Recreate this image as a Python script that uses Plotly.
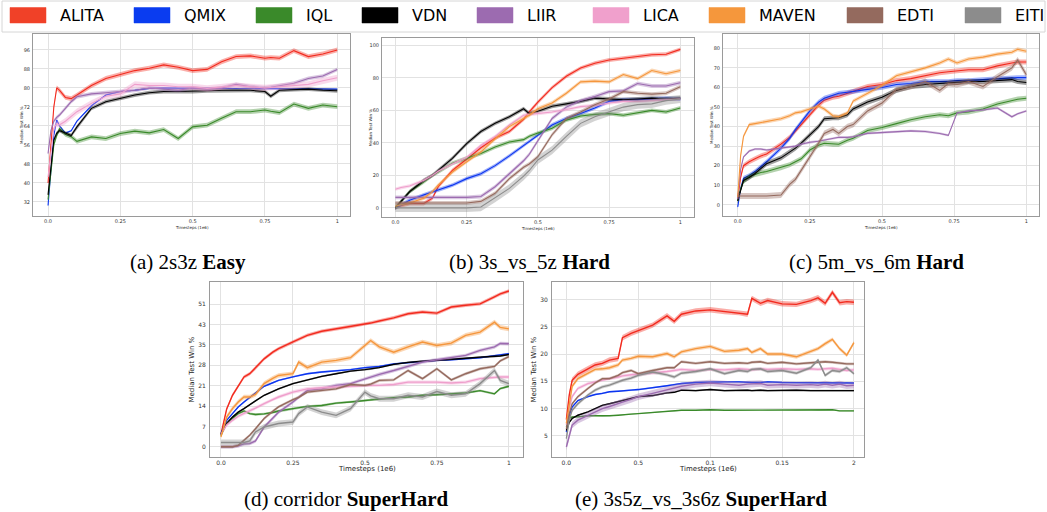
import plotly.graph_objects as go

W, H = 1047, 512

NAMES = ["ALITA", "QMIX", "IQL", "VDN", "LIIR", "LICA", "MAVEN", "EDTI", "EITI"]
COLORS = ["#f22a1e", "#0b35f0", "#3a8a2a", "#000000", "#9c6bb0",
          "#ef9fcc", "#f5963c", "#956a5e", "#8c8c8c"]

# ---------------- (a) 2s3z ----------------
A_X = [0, 0.01, 0.02, 0.03, 0.04, 0.06, 0.08, 0.1, 0.15, 0.2, 0.25, 0.3, 0.35, 0.4,
       0.45, 0.5, 0.55, 0.6, 0.65, 0.7, 0.75, 0.77, 0.8, 0.85, 0.9, 0.95, 1.0]
A_ALITA = [40, 55, 72, 80, 79, 76, 75.5, 77, 81, 84, 85.5, 87.3, 88.3, 89.7, 88.7, 87.3,
           87.8, 91, 93.2, 93.5, 92.5, 92.8, 92.5, 95.7, 93.2, 94.3, 96]
A_QMIX = [30.5, 45, 60, 66.5, 64, 61, 62, 66, 72.5, 77, 78.5, 79, 79.8, 80, 79.8, 79.8,
          79.8, 79.8, 79.8, 79.8, 79.8, 79.8, 79.8, 79.8, 79.8, 79.6, 79.5]
A_IQL = [33, 45, 56, 60, 62.9, 60.5, 59.5, 57.5, 59.4, 58.7, 60.8, 61.8, 61.1, 62.5, 58.7,
         63.6, 64.3, 67.2, 70, 70, 70.7, 70.2, 69.6, 73.2, 71.4, 72.8, 72.1]
A_VDN = [35, 48, 58, 61, 62, 61, 60, 63.6, 71.4, 74.2, 75.6, 77, 78, 78.5, 78.5, 78.5,
         78.8, 79, 79, 79, 78.5, 76.5, 79, 79.3, 79.5, 79, 78.8]
A_LIIR = [52.4, 62, 66, 67.6, 68.6, 71.4, 74.2, 76.3, 77.5, 78, 78.5, 79, 80, 79.5, 79, 80,
          79.5, 80, 81.5, 80.5, 80, 80.3, 81, 82, 84, 85, 87.8]
A_LICA = [42.5, 52, 63, 65, 64.5, 66, 68, 70, 73.5, 76.5, 77.5, 81.5, 81, 81, 80.5, 80.5,
          79.8, 80.5, 81, 80.5, 80, 80.2, 80.5, 81, 81.5, 83, 84.3]
A_BAND = [1.0, 0.3, 1.0, 0.8, 0.8, 1.3]

# ---------------- (b) 3s_vs_5z ----------------
B_X = [0, 0.02, 0.05, 0.1, 0.13, 0.15, 0.2, 0.25, 0.3, 0.35, 0.4, 0.45, 0.47, 0.5, 0.55,
       0.6, 0.65, 0.7, 0.75, 0.8, 0.85, 0.9, 0.95, 1.0]
B_ALITA = [0, 1.5, 2.7, 2.7, 6, 13, 23, 30, 37, 43, 47, 54.5, 59, 65, 74, 81, 86, 89, 91,
           92, 93, 94.2, 94.5, 97.5]
B_QMIX = [0, 2, 4.7, 8, 10, 11, 14, 18, 21, 26, 32, 38.5, 41, 45, 51, 55, 58, 61.5, 65.5,
          66.5, 66.5, 67, 67.5, 67]
B_IQL = [0, 4, 10, 16, 20, 22, 27.5, 30.5, 33.5, 37.5, 40.5, 42, 44, 46, 49, 54, 56.5,
         57.5, 58, 57, 58.5, 60, 59, 61.5]
B_VDN = [0, 4, 10, 17, 20, 23, 30.5, 39.5, 47, 52, 56, 61, 58, 59.5, 62.5, 64, 65.5, 67.5,
         67, 66.5, 67, 67.5, 67, 67.5]
B_LIIR = [6.5, 6.5, 6.5, 6.5, 6.5, 6.5, 6.5, 6.5, 7, 13, 21, 29, 33, 41, 55, 62, 66, 68.5,
          71.5, 72, 76.5, 75, 75, 77]
B_LICA = [11.5, 12.5, 13.5, 17, 20, 22.5, 27, 31, 38.5, 44, 51, 57, 57.5, 58, 59, 60.5,
          62.3, 63, 64.5, 65.5, 65.5, 66, 66.5, 67]
B_MAVEN = [1, 2, 3, 6, 10, 14, 22, 28.5, 34.5, 42.5, 50, 55, 57, 61, 64.5, 70.5, 77.5, 78,
           77.5, 82, 79.5, 84.5, 82.5, 84.5]
B_EDTI = [3, 3, 3, 3, 3, 3, 3, 3, 4, 9, 18, 25, 27, 31.5, 45, 55, 59, 63.5, 67, 71.5, 70.5,
          70, 70.5, 74.5]
B_EITI = [0, 0, 0, 0, 0, 0, 0, 0, 0.5, 6, 12, 19.5, 23, 29.5, 35.5, 44, 52, 56, 59, 62,
          63.5, 64, 66, 67]
B_BAND = [1.2, 1.2, 1.2, 1.2, 1.2, 1.0, 1.2, 1.2, 2.5]

# ---------------- (c) 5m_vs_6m ----------------
C_X = [0, 0.01, 0.02, 0.04, 0.06, 0.08, 0.1, 0.15, 0.18, 0.2, 0.22, 0.25, 0.28, 0.3, 0.33,
       0.35, 0.38, 0.4, 0.45, 0.5, 0.55, 0.6, 0.65, 0.7, 0.73, 0.76, 0.8, 0.85, 0.9, 0.95,
       0.97, 1.0]
C_ALITA = [3, 14, 20, 22, 23.5, 25, 26, 31, 34.5, 37.5, 41, 46, 51, 53.5, 55, 55.5, 57, 58,
           60.5, 61.5, 63.5, 64.5, 66, 67.5, 68, 68.5, 69, 69, 71, 72.5, 73, 73]
C_QMIX = [-1, 8, 13.5, 15, 17, 19.5, 22, 29, 34, 38.5, 42.5, 48, 52.5, 54.5, 56, 57, 57.5,
          58, 59, 60, 61.5, 62, 63, 63, 63, 63.5, 63.5, 64, 64.5, 65, 65, 65]
C_IQL = [2, 8, 12, 14.5, 15.5, 16.5, 17, 19, 20.5, 22, 23.5, 28, 30.5, 31.5, 31, 31, 33, 34,
         38, 39.5, 41.5, 43.5, 45, 46, 45.5, 47, 47.5, 49, 51.5, 53.5, 54, 54.5]
C_VDN = [2, 8, 12.5, 14, 16, 18.5, 21, 24, 27, 29, 31.5, 35.5, 40, 44, 44.5, 44.5, 46, 49,
         52.5, 55, 58.5, 60.5, 61.5, 62, 62.5, 62.5, 63, 63, 63.5, 64, 63, 62.5]
C_LIIR = [3, 18, 24.5, 27.5, 28.5, 28.5, 28, 29, 29.5, 30, 31, 32, 32.5, 33, 34, 34.5, 34.5,
          34.8, 36.5, 37, 37.3, 37.8, 37.5, 36.5, 35.5, 47, 48, 48.5, 49.5, 45, 46.5, 48]
C_MAVEN = [4, 25, 35, 41, 41.5, 42, 42.5, 44, 45.5, 47, 47.5, 49, 50.5, 49, 45.5, 45, 47,
           53, 57, 61, 66, 68, 70, 72.5, 74.5, 72.5, 74.5, 75.5, 77, 78, 79.5, 78.5]
C_EDTI = [4.5, 4.5, 4.5, 4.5, 4.5, 4.5, 4.5, 5, 10.5, 13, 17.5, 24.5, 31.5, 36.5, 38.5, 36.5,
          40, 41, 48, 52, 59, 60.5, 63, 58.5, 62, 61.5, 63, 60.5, 65.5, 70, 74, 66.5]
C_BAND = [1.3, 1.2, 1.3, 1.3, 0.6, 1.0, 1.5]

# ---------------- (d) corridor ----------------
D_X = [0, 0.02, 0.04, 0.06, 0.08, 0.1, 0.12, 0.15, 0.18, 0.2, 0.25, 0.27, 0.3, 0.35, 0.4,
       0.45, 0.5, 0.52, 0.55, 0.6, 0.65, 0.7, 0.75, 0.8, 0.85, 0.9, 0.95, 0.97, 1.0]
D_ALITA = [4.3, 13, 17.7, 21, 24, 25.1, 27, 30.2, 32.5, 33.7, 36, 37, 38.3, 39.7, 40.5,
           41.3, 42.3, 42.5, 43.2, 44.3, 45.7, 46.3, 45.9, 48, 48.6, 49.1, 51.5, 52.5, 53.5]
D_QMIX = [4.5, 9.1, 11.4, 13.7, 15.4, 16.9, 18.5, 20.8, 22, 22.8, 24, 24.5, 25.1, 25.7, 26,
          26.5, 27.2, 27.4, 27.6, 28.5, 28.9, 29.4, 29.7, 29.9, 30.2, 30.6, 31.3, 31.5, 32]
D_IQL = [3.9, 8, 9.7, 11.4, 12.3, 11.4, 11.1, 11.3, 11.8, 12.3, 13.1, 13.4, 13.9, 14.2, 15,
         15.4, 15.9, 16.1, 16.4, 16.9, 17.1, 17.7, 17.9, 18.2, 18.5, 19.3, 18.2, 20, 20.8]
D_VDN = [4.3, 8, 10.2, 11.9, 13.1, 14.6, 15.8, 17.7, 19, 19.9, 21.7, 22.2, 23, 24.2, 25.1,
         26, 26.5, 26.7, 27.2, 28.3, 29, 29.4, 29.7, 29.9, 30.4, 30.8, 31, 31.2, 31.7]
D_LIIR = [0, 0, 0, 0.3, 1, 1.1, 2, 6.8, 9.7, 11.9, 15.4, 17, 19.4, 19.9, 21.1, 21.7, 23.4,
          24, 24.9, 26.2, 27.6, 29.1, 29.9, 30.6, 31.4, 33.1, 34.3, 35.5, 35.4]
D_LICA = [4.3, 7.5, 9.1, 10.5, 11.5, 12.3, 13.3, 14.8, 16.3, 17.1, 18.8, 19.2, 19.9, 20.3,
          20.6, 20.8, 21.1, 21.1, 21.1, 21.4, 22.2, 22.2, 22.2, 21.9, 22.2, 23.4, 24, 24, 24]
D_MAVEN = [3.4, 10.2, 13.1, 15.4, 17.1, 17.1, 18, 21.7, 23.5, 24.5, 25.1, 29.1, 27.2, 29.1,
           29.7, 30.6, 34.8, 36.5, 34.3, 32.5, 34.3, 36, 34.8, 35.6, 38.3, 39.4, 42.8, 41,
           40.5]
D_EDTI = [0, 0, 0, 0.5, 2.2, 4, 6.2, 9.7, 12.2, 13.7, 16.2, 17, 18.8, 19.4, 19.9, 21.4,
          21.1, 21.5, 22.8, 23, 26.2, 23.4, 26.8, 23, 25.1, 26.8, 27.6, 29.5, 31]
D_EITI = [1.5, 1.5, 1.5, 1.5, 1.5, 2, 5.1, 6.8, 7.5, 8, 8.5, 11.4, 13.7, 11.9, 10.8, 13.1,
          18.8, 17.5, 16.5, 16.5, 17.7, 17.1, 19, 17.7, 18.2, 21.7, 26.2, 22.8, 21.7]
D_BAND = [0.6, 0.3, 0.4, 0.3, 0.6, 0.6, 0.8, 0.5, 1.0]

# ---------------- (e) 3s5z_vs_3s6z ----------------
E_X = [0, 0.02, 0.04, 0.08, 0.15, 0.2, 0.25, 0.3, 0.36, 0.39, 0.45, 0.5, 0.6, 0.7, 0.75,
       0.8, 0.9, 1.0, 1.1, 1.2, 1.26, 1.29, 1.35, 1.4, 1.5, 1.6, 1.7, 1.75, 1.8, 1.85, 1.9,
       1.95, 2.0]
E_ALITA = [8, 12.5, 15.2, 16.3, 17.3, 18, 18.3, 18.9, 19.2, 23, 23.8, 24.3, 25.3, 27, 26,
           27.3, 27.9, 28.1, 27.8, 27.6, 27.3, 30.2, 29.3, 29.8, 29.2, 29.1, 29.8, 30.3,
           29.3, 31.3, 29.4, 29.6, 29.5]
E_QMIX = [5.7, 8.8, 10.3, 11.5, 12.2, 12.6, 12.8, 13.1, 13.2, 13.3, 13.4, 13.5, 13.8, 14.2,
          14.4, 14.6, 14.8, 14.9, 14.9, 14.9, 14.8, 14.8, 14.8, 14.9, 14.8, 14.8, 14.7,
          14.7, 14.7, 14.7, 14.7, 14.7, 14.7]
E_IQL = [6.6, 8.2, 8.5, 8.5, 8.7, 8.7, 8.6, 8.7, 8.8, 8.9, 9, 9.1, 9.3, 9.6, 9.6, 9.7, 9.7,
         9.8, 9.7, 9.7, 9.8, 9.8, 9.8, 9.7, 9.8, 9.7, 9.8, 9.7, 9.7, 9.8, 9.6, 9.6, 9.6]
E_VDN = [6, 7.5, 8.2, 8.8, 9.4, 10, 10.6, 10.9, 11.3, 11.5, 11.8, 12.2, 12.4, 12.9, 13,
         13.4, 13.3, 13.5, 13.3, 13.4, 13.4, 13.3, 13.4, 13.3, 13.4, 13.4, 13.3, 13.3, 13.4,
         13.3, 13.4, 13.3, 13.3]
E_LIIR = [3, 5, 7, 7.9, 8.8, 9.4, 10, 10.4, 11, 11.2, 11.7, 12.2, 12.8, 13.4, 13.8, 14.1,
          14.5, 14.7, 14.5, 14.3, 14.5, 14.5, 14.6, 14.3, 14.4, 14.3, 14.4, 14.3, 14.5,
          14.3, 14.5, 14.2, 14.3]
E_LICA = [7, 10, 12.2, 13.7, 14.6, 14.9, 15.3, 15.5, 15.8, 16, 16.2, 16.3, 16.5, 16.8, 17,
          17.2, 17, 17.2, 17.1, 17.3, 17.2, 17.1, 17.3, 17.2, 17.3, 17.2, 17.3, 17.2, 17.3,
          17.4, 17.2, 17, 17.1]
E_MAVEN = [7.3, 11, 14.1, 15.5, 16.5, 17.2, 17.3, 17.5, 18, 18.9, 19.2, 19.6, 19.5, 20.1,
           19.5, 20.4, 21, 21.4, 20.5, 20.7, 21, 20.3, 21, 20, 20, 19.5, 20.5, 21, 21.9,
           22.7, 21, 19.8, 22.1]
E_EDTI = [6.3, 9, 10.9, 12.2, 13.7, 14.7, 15.5, 15.5, 16.1, 16.6, 17, 16.4, 17, 17.5, 17.5,
          18.6, 18.3, 18.6, 18.3, 18.4, 18.3, 18.5, 18.6, 18.3, 18.5, 18.2, 18.4, 18.5,
          18.6, 18.5, 18.3, 18.2, 18.2]
E_EITI = [4.5, 8, 9.7, 10.9, 12.5, 13.4, 14, 14.3, 14.9, 15.2, 15.6, 16.1, 16.7, 16.2, 15.8,
          16.5, 16.8, 17.3, 16.4, 17, 16.8, 17.2, 17.3, 16.8, 17, 16.5, 17.5, 18.9, 16.1, 17,
          16.8, 17.5, 16.4]
E_BAND = [0.5, 0.15, 0.1, 0.15, 0.6, 0.3, 0.35, 0.25, 0.3]

# tick labels
X_TICKS_1 = [0, 0.25, 0.5, 0.75, 1]
X_TEXT_1 = ["0.0", "0.25", "0.5", "0.75", "1"]
X_TICKS_E = [0, 0.5, 1.0, 1.5, 2.0]
X_TEXT_E = ["0.0", "0.5", "0.1", "0.15", "2"]
Y_TICKS_A = [32, 40, 48, 56, 64, 72, 80, 88, 96]
Y_TICKS_B = [0, 20, 40, 60, 80, 100]
Y_TICKS_C = [0, 10, 20, 30, 40, 50, 60, 70, 80]
Y_TICKS_D = [0, 7, 14, 21, 28, 35, 42, 49]
Y_TEXT_D = ["0", "7", "14", "21", "28", "35", "43", "51"]
Y_TICKS_E = [5, 10, 15, 20, 25, 30]

CAPTIONS = ["(a) 2s3z <b>Easy</b>", "(b) 3s_vs_5z <b>Hard</b>", "(c) 5m_vs_6m <b>Hard</b>",
            "(d) corridor <b>SuperHard</b>", "(e) 3s5z_vs_3s6z <b>SuperHard</b>"]


def hex_rgba(h, a):
    h = h.lstrip("#")
    return "rgba(%d,%d,%d,%.2f)" % (int(h[0:2], 16), int(h[2:4], 16), int(h[4:6], 16), a)


panels = [
    dict(x=A_X, series=[("ALITA", A_ALITA), ("QMIX", A_QMIX), ("IQL", A_IQL), ("VDN", A_VDN),
                        ("LIIR", A_LIIR), ("LICA", A_LICA)], band=A_BAND,
         box=(33, 350, 34, 216), xr=(-0.052, 1.044), yr=(26.1, 102.7),
         xt=(X_TICKS_1, X_TEXT_1), yt=(Y_TICKS_A, [str(v) for v in Y_TICKS_A]),
         small=True, cap=(188, 262)),
    dict(x=B_X, series=[("ALITA", B_ALITA), ("QMIX", B_QMIX), ("IQL", B_IQL), ("VDN", B_VDN),
                        ("LIIR", B_LIIR), ("LICA", B_LICA), ("MAVEN", B_MAVEN),
                        ("EDTI", B_EDTI), ("EITI", B_EITI)], band=B_BAND,
         box=(382, 694, 38, 217), xr=(-0.047, 1.048), yr=(-5.6, 104.5),
         xt=(X_TICKS_1, X_TEXT_1), yt=(Y_TICKS_B, [str(v) for v in Y_TICKS_B]),
         small=True, cap=(529, 262)),
    dict(x=C_X, series=[("ALITA", C_ALITA), ("QMIX", C_QMIX), ("IQL", C_IQL), ("VDN", C_VDN),
                        ("LIIR", C_LIIR), ("MAVEN", C_MAVEN), ("EDTI", C_EDTI)], band=C_BAND,
         box=(723, 1039, 34, 216), xr=(-0.051, 1.044), yr=(-5.7, 87.3),
         xt=(X_TICKS_1, X_TEXT_1), yt=(Y_TICKS_C, [str(v) for v in Y_TICKS_C]),
         small=True, cap=(876, 262)),
    dict(x=D_X, series=[("ALITA", D_ALITA), ("QMIX", D_QMIX), ("IQL", D_IQL), ("VDN", D_VDN),
                        ("LIIR", D_LIIR), ("LICA", D_LICA), ("MAVEN", D_MAVEN),
                        ("EDTI", D_EDTI), ("EITI", D_EITI)], band=D_BAND,
         box=(210, 523, 282, 457), xr=(-0.038, 1.049), yr=(-3.5, 56.6),
         xt=(X_TICKS_1, X_TEXT_1), yt=(Y_TICKS_D, Y_TEXT_D),
         small=False, cap=(346, 499)),
    dict(x=E_X, series=[("ALITA", E_ALITA), ("QMIX", E_QMIX), ("IQL", E_IQL), ("VDN", E_VDN),
                        ("LIIR", E_LIIR), ("LICA", E_LICA), ("MAVEN", E_MAVEN),
                        ("EDTI", E_EDTI), ("EITI", E_EITI)], band=E_BAND,
         box=(552, 864, 282, 457), xr=(-0.1, 2.07), yr=(1.15, 33.2),
         xt=(X_TICKS_E, X_TEXT_E), yt=(Y_TICKS_E, [str(v) for v in Y_TICKS_E]),
         small=False, cap=(701, 499)),
]

fig = go.Figure()
annotations = []
shapes = []
layout_axes = {}

for i, p in enumerate(panels, start=1):
    xref = "x" if i == 1 else "x%d" % i
    yref = "y" if i == 1 else "y%d" % i
    xs = p["x"]
    for k, (name, ys) in enumerate(p["series"]):
        col = COLORS[NAMES.index(name)]
        b = p["band"][k]
        up = [v + b for v in ys]
        lo = [v - b for v in ys]
        fig.add_trace(go.Scatter(
            x=list(xs) + list(xs)[::-1], y=up + lo[::-1], fill="toself",
            fillcolor=hex_rgba(col, 0.38), line=dict(width=0), mode="lines",
            xaxis=xref, yaxis=yref, hoverinfo="skip", showlegend=False))
        fig.add_trace(go.Scatter(
            x=xs, y=ys, mode="lines", line=dict(color=col, width=1.1 if p["small"] else 1.4),
            xaxis=xref, yaxis=yref, name=name, showlegend=False))

    x0, x1, y0, y1 = p["box"]
    fs = 5 if p["small"] else 6
    common = dict(showgrid=True, gridcolor="#e2e2e2", gridwidth=1, zeroline=False,
                  showline=True, mirror=True, linecolor="#9a9a9a", linewidth=1,
                  ticks="", tickfont=dict(family="DejaVu Sans", size=fs, color="#333"))
    layout_axes["xaxis" if i == 1 else "xaxis%d" % i] = dict(
        domain=[x0 / W, x1 / W], anchor=yref, range=list(p["xr"]),
        tickvals=p["xt"][0], ticktext=p["xt"][1], ticklabelstandoff=0, **common)
    layout_axes["yaxis" if i == 1 else "yaxis%d" % i] = dict(
        domain=[1 - y1 / H, 1 - y0 / H], anchor=xref, range=list(p["yr"]),
        tickvals=p["yt"][0], ticktext=p["yt"][1], ticklabelstandoff=1 if p["small"] else 2,
        **common)

    tfs = 4 if p["small"] else 7
    cx = (x0 + x1) / 2
    cy = (y0 + y1) / 2
    xt_y = y1 + (11 if p["small"] else 12)
    yt_x = x0 - (12 if p["small"] else 19)
    annotations.append(dict(x=cx / W, y=1 - xt_y / H, xref="paper", yref="paper",
                            text="Timesteps (1e6)", showarrow=False,
                            font=dict(family="DejaVu Sans", size=tfs, color="#222"),
                            xanchor="center", yanchor="middle"))
    annotations.append(dict(x=yt_x / W, y=1 - cy / H, xref="paper", yref="paper",
                            text="Median Test Win %", showarrow=False, textangle=-90,
                            font=dict(family="DejaVu Sans", size=tfs, color="#222"),
                            xanchor="center", yanchor="middle"))
    annotations.append(dict(x=p["cap"][0] / W, y=1 - p["cap"][1] / H, xref="paper",
                            yref="paper", text=CAPTIONS[i - 1], showarrow=False,
                            font=dict(family="Liberation Serif", size=21, color="#000"),
                            xanchor="center", yanchor="middle"))

# legend (drawn manually as colored boxes + labels)
LEG_RECT_X = [10, 134, 256, 362, 477, 593, 709, 847, 965]
shapes.append(dict(type="rect", xref="paper", yref="paper", x0=2 / W, x1=1045 / W,
                   y0=1 - 32 / H, y1=1 - 1 / H, line=dict(color="#d6d6d6", width=1),
                   fillcolor="rgba(255,255,255,0)", layer="above"))
LEG_COLORS = ["#f04128", "#0a3cf0", "#3a8a2a", "#000000", "#9c6bb0", "#f0a0cc",
              "#f5973c", "#946a5e", "#8c8c8c"]
for j, name in enumerate(NAMES):
    rx = LEG_RECT_X[j]
    shapes.append(dict(type="rect", xref="paper", yref="paper", x0=rx / W, x1=(rx + 36) / W,
                       y0=1 - 23 / H, y1=1 - 7.5 / H, fillcolor=LEG_COLORS[j],
                       line=dict(color=LEG_COLORS[j], width=0.5)))
    annotations.append(dict(x=(rx + 48) / W, y=1 - 15.5 / H, xref="paper", yref="paper",
                            text=name, showarrow=False, xanchor="left", yanchor="middle",
                            font=dict(family="DejaVu Sans", size=16, color="#000")))

fig.update_layout(
    width=W, height=H, margin=dict(l=0, r=0, t=0, b=0),
    paper_bgcolor="white", plot_bgcolor="white", showlegend=False,
    annotations=annotations, shapes=shapes, **layout_axes)

fig.write_html("out.html", config={"displayModeBar": False},
               post_script="document.body.style.margin='0';"
                           "document.body.style.padding='0';"
                           "document.body.style.overflow='hidden';")
